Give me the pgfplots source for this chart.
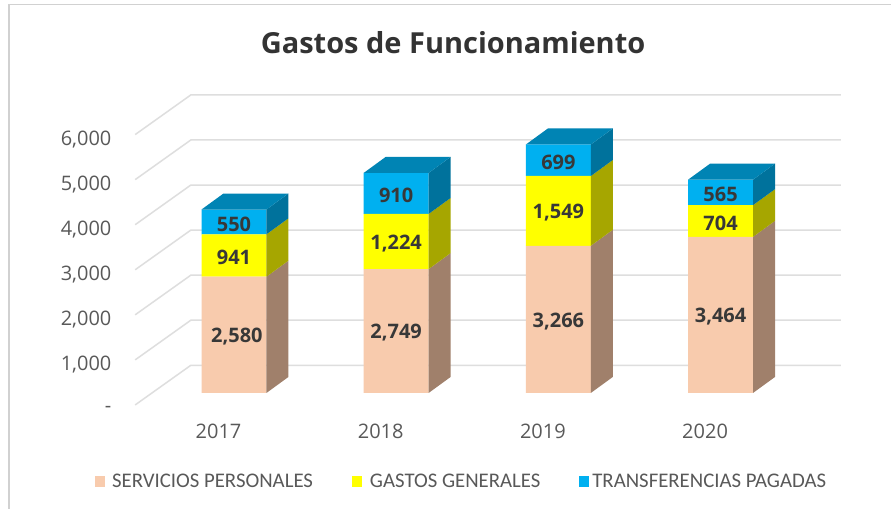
\documentclass[border=0pt]{standalone}
\usepackage{pgfplots}
\pgfplotsset{compat=1.18}
\usepackage{fontspec}
\setmainfont{Open Sans}
\newfontfamily\legfont{Carlito}
\definecolor{gridc}{HTML}{DEDEDE}
\definecolor{peach}{HTML}{F8CBAD}
\definecolor{peachS}{HTML}{A0806B}
\definecolor{yel}{HTML}{FFFF00}
\definecolor{yelS}{HTML}{A6A600}
\definecolor{blu}{HTML}{00B0F0}
\definecolor{bluS}{HTML}{00729C}
\definecolor{bluT}{HTML}{0084B4}
\pgfplotsset{base/.style={
  width=892pt,height=509pt,scale only axis,
  axis line style={draw=none},tick style={draw=none},clip=false,
}}
\pgfplotstableread{
x  serv  gast  tran
0  2580  941   550
1  2749  1224  910
2  3266  1549  699
3  3464  704   565
}\datatable
\pgfplotstableread{
x y lab
0.018 1290 {2,580}
1 1375 {2,749}
2 1633 {3,266}
3 1732 {3,464}
0 3050 {941}
1 3361 {1,224}
2 4040 {1,549}
3 3816 {704}
0 3796 {550}
1 4428 {910}
2 5164 {699}
3 4450 {565}
}\labeltable
\begin{document}
\begin{tikzpicture}
% walls, grid, y ticks, title, frame
\begin{axis}[base,
  xmin=0,xmax=892,ymin=-2299.4,ymax=8986.7,
  axis background/.style={fill=white},
  xtick=\empty,
  ytick={0,1000,2000,3000,4000,5000,6000},
  yticklabels={-,{1,000},{2,000},{3,000},{4,000},{5,000},{6,000}},
  yticklabel style={anchor=east,xshift=115pt,yshift=-4.5pt,font=\fontsize{20}{24}\selectfont,text=black!65},
  title={\textbf{Gastos de Funcionamiento}},
  title style={at={(0.5084,0.9045)},anchor=center,font=\fontsize{29}{33}\selectfont,text=black!80},
]
\addplot[gridc,line width=1.5pt] coordinates {(135.3,0)(191,880)(841.7,880)};
\addplot[gridc,line width=1.5pt] coordinates {(135.3,1000)(191,1880)(841.7,1880)};
\addplot[gridc,line width=1.5pt] coordinates {(135.3,2000)(191,2880)(841.7,2880)};
\addplot[gridc,line width=1.5pt] coordinates {(135.3,3000)(191,3880)(841.7,3880)};
\addplot[gridc,line width=1.5pt] coordinates {(135.3,4000)(191,4880)(841.7,4880)};
\addplot[gridc,line width=1.5pt] coordinates {(135.3,5000)(191,5880)(841.7,5880)};
\addplot[gridc,line width=1.5pt] coordinates {(135.3,6000)(191,6880)(841.7,6880)};
\addplot[black!18,line width=1.6pt] coordinates {(9.3,-2299.4)(9.3,8891)(892,8891)};
\end{axis}
% bar fronts
\begin{axis}[base,
  ybar stacked,bar width=65pt,
  xmin=-1.4427,xmax=4.0522,ymin=-2565.4,ymax=8720.7,
  xtick={0,1,2,3},xticklabels={2017,2018,2019,2020},
  xticklabel style={anchor=center,xshift=-15.5pt,yshift=77pt,font=\fontsize{20}{24}\selectfont,text=black!65},
  ytick=\empty,
  legend columns=3,
  legend style={at={(95pt,27.5pt)},anchor=west,draw=none,fill=none,
    font=\legfont\fontsize{20.8}{24}\selectfont,text=black!65,inner sep=0pt,
    /tikz/every even column/.append style={column sep=37pt}},
  legend image code/.code={\fill[#1] (0pt,-5.5pt) rectangle (10pt,5.5pt);},
]
\addplot[fill=peach,draw=none] table[x=x,y=serv] {\datatable};
\addplot[fill=yel,draw=none] table[x=x,y=gast] {\datatable};
\addplot[fill=blu,draw=none] table[x=x,y=tran] {\datatable};
\legend{\hspace{5pt}SERVICIOS PERSONALES,\hspace{6pt}GASTOS GENERALES\hspace{4pt},\hspace{1pt}TRANSFERENCIAS PAGADAS}
\end{axis}
% side and top faces, data labels
\begin{axis}[base,
  xmin=-1.4427,xmax=4.0522,ymin=-2565.4,ymax=8720.7,
  xtick=\empty,ytick=\empty,
]
% 2017
\addplot[fill=peachS,draw=none] coordinates {(.2002,0)(.3357,355)(.3357,2935)(.2002,2580)};
\addplot[fill=yelS,draw=none] coordinates {(.2002,2580)(.3357,2935)(.3357,3876)(.2002,3521)};
\addplot[fill=bluS,draw=none] coordinates {(.2002,3521)(.3357,3876)(.3357,4426)(.2002,4071)};
\addplot[fill=bluT,draw=none] coordinates {(-.2002,4071)(-.0647,4426)(.3357,4426)(.2002,4071)};
% 2018
\addplot[fill=peachS,draw=none] coordinates {(1.2002,0)(1.3357,355)(1.3357,3104)(1.2002,2749)};
\addplot[fill=yelS,draw=none] coordinates {(1.2002,2749)(1.3357,3104)(1.3357,4328)(1.2002,3973)};
\addplot[fill=bluS,draw=none] coordinates {(1.2002,3973)(1.3357,4328)(1.3357,5238)(1.2002,4883)};
\addplot[fill=bluT,draw=none] coordinates {(.7998,4883)(.9353,5238)(1.3357,5238)(1.2002,4883)};
% 2019
\addplot[fill=peachS,draw=none] coordinates {(2.2002,0)(2.3357,355)(2.3357,3621)(2.2002,3266)};
\addplot[fill=yelS,draw=none] coordinates {(2.2002,3266)(2.3357,3621)(2.3357,5170)(2.2002,4815)};
\addplot[fill=bluS,draw=none] coordinates {(2.2002,4815)(2.3357,5170)(2.3357,5869)(2.2002,5514)};
\addplot[fill=bluT,draw=none] coordinates {(1.7998,5514)(1.9353,5869)(2.3357,5869)(2.2002,5514)};
% 2020
\addplot[fill=peachS,draw=none] coordinates {(3.2002,0)(3.3357,355)(3.3357,3819)(3.2002,3464)};
\addplot[fill=yelS,draw=none] coordinates {(3.2002,3464)(3.3357,3819)(3.3357,4523)(3.2002,4168)};
\addplot[fill=bluS,draw=none] coordinates {(3.2002,4168)(3.3357,4523)(3.3357,5088)(3.2002,4733)};
\addplot[fill=bluT,draw=none] coordinates {(2.7998,4733)(2.9353,5088)(3.3357,5088)(3.2002,4733)};
% labels
\addplot[draw=none,mark=none,point meta=explicit symbolic,
  nodes near coords,
  nodes near coords style={anchor=center,yshift=-2pt,font=\bfseries\fontsize{20}{24}\selectfont,text=black!78,inner sep=0pt}]
  table[x=x,y=y,meta=lab] {\labeltable};
\end{axis}
\end{tikzpicture}
\end{document}
